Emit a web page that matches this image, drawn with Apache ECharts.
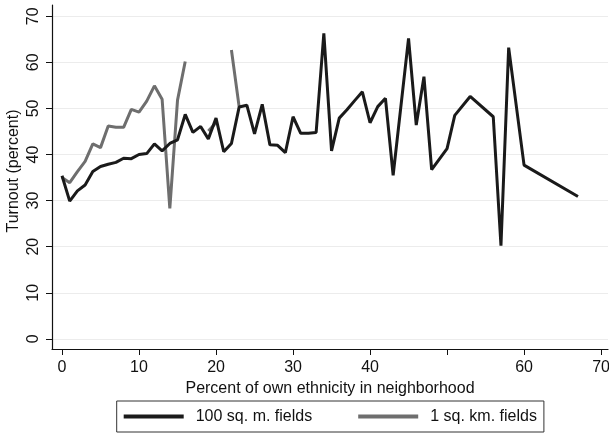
<!DOCTYPE html>
<html><head><meta charset="utf-8">
<script src="https://cdn.jsdelivr.net/npm/echarts@6/dist/echarts.min.js"></script>
<style>html,body{margin:0;padding:0;background:#fff}#c{width:609px;height:433px}</style>
</head><body><div id="c"></div>
<script>
var blackX = [0,1,2,3,4,5,6,7,8,9,10,11,12,13,14,15,16,17,18,19,20,21,22,23,24,25,26,27,28,29,30,31,32,33,34,35,36,37,38,39,40,41,42,43,45,46,47,48,50,51,53,56,57,58,60,67];
var blackY = [35.4,29.9,32.1,33.4,36.3,37.4,37.9,38.3,39.2,39.1,40.0,40.2,42.3,40.8,42.4,43.2,48.7,44.8,46.1,43.4,47.9,40.6,42.4,50.3,50.7,44.5,50.9,42.1,42.0,40.4,48.2,44.6,44.6,44.8,66.3,40.8,47.9,49.7,51.7,53.6,46.9,50.4,52.2,35.5,65.2,46.4,56.9,36.7,41.3,48.5,52.6,48.2,20.2,63.2,37.7,30.9];
var grayX = [0,1,2,3,4,5,6,7,8,9,10,11,12,13,14,15,16,17,19,20,21,22,23];
var grayY = [35.0,33.9,36.3,38.5,42.3,41.5,46.2,45.9,45.9,49.8,49.2,51.6,54.9,52.0,28.3,51.8,60.2,null,45.1,46.9,null,62.7,50.4];
var xTicks = [0,10,20,30,40,50,60,70];
var yTicks = [0,10,20,30,40,50,60,70];
var seriesNames = ['100 sq. m. fields','1 sq. km. fields'];

function pairs(xs, ys){ return xs.map(function(x,i){ return [x, ys[i]]; }); }

var chart = echarts.init(document.getElementById('c'), null, {renderer:'canvas'});
var font = 'Liberation Sans, Arial, sans-serif';
chart.setOption({
  animation:false,
  textStyle:{fontFamily:font},
  grid:{left:52, right:1, top:5, bottom:84, containLabel:false, outerBoundsMode:'none'},
  xAxis:{
    type:'value', min:-1.3, max:70.9,
    name:'Percent of own ethnicity in neighborhood', nameLocation:'middle', nameGap:27,
    nameTextStyle:{color:'#111', fontSize:16, fontFamily:font},
    axisLine:{show:true, onZero:false, lineStyle:{color:'#111', width:1.2}},
    axisTick:{show:true, customValues:xTicks, length:6, lineStyle:{color:'#111'}},
    axisLabel:{customValues:xTicks, color:'#111', fontSize:16, fontFamily:font, margin:11,
      formatter:function(v){ return v===50 ? '' : String(v); }},
    splitLine:{show:false}
  },
  yAxis:{
    type:'value', min:-2.2, max:72.45,
    name:'Turnout (percent)', nameLocation:'middle', nameGap:30, nameMoveOverlap:false,
    nameTextStyle:{color:'#111', fontSize:16, fontFamily:font, padding:[0,0,0,12]},
    axisLine:{show:true, onZero:false, lineStyle:{color:'#111', width:1.2}},
    axisTick:{show:true, customValues:yTicks, length:6, lineStyle:{color:'#111'}},
    axisLabel:{customValues:yTicks, color:'#111', fontSize:16, fontFamily:font, rotate:90, margin:10},
    splitLine:{show:true, lineStyle:{color:'#ececec', width:1.2}}
  },
  legend:{
    left:116.7, top:401,
    orient:'horizontal', padding:[7.5,7,7.5,7], itemGap:46,
    borderColor:'#333', borderWidth:1,
    icon:'rect', itemWidth:60, itemHeight:4,
    textStyle:{color:'#111', fontSize:16, fontFamily:font, padding:[0,0,0,7]},
    data:seriesNames
  },
  series:[
    {name:seriesNames[1], type:'line', data:pairs(grayX, grayY), showSymbol:false, connectNulls:false,
     itemStyle:{color:'#6e6e6e'}, lineStyle:{color:'#6e6e6e', width:3}, z:2},
    {name:seriesNames[0], type:'line', data:pairs(blackX, blackY), showSymbol:false,
     itemStyle:{color:'#1a1a1a'}, lineStyle:{color:'#1a1a1a', width:3}, z:3}
  ]
});
</script></body></html>
